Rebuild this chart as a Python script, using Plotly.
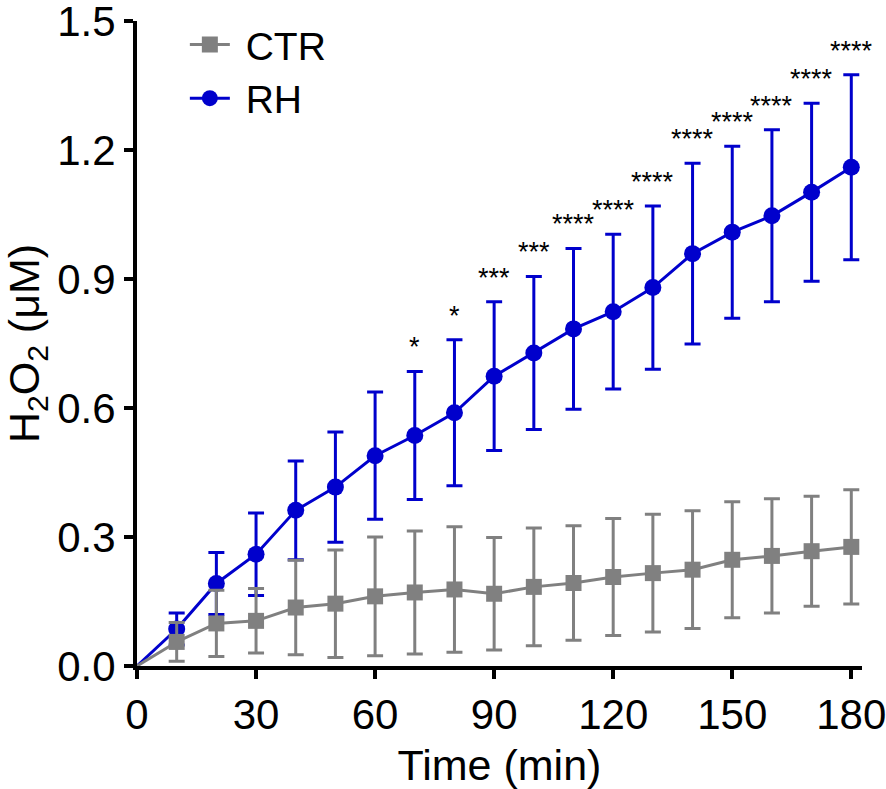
import plotly.graph_objects as go

time = [0, 10, 20, 30, 40, 50, 60, 70, 80, 90, 100, 110, 120, 130, 140, 150, 160, 170, 180]

ctr_mean = [0, 0.056, 0.099, 0.105, 0.136, 0.145, 0.162, 0.171, 0.178, 0.168, 0.184,
            0.193, 0.207, 0.216, 0.224, 0.247, 0.256, 0.267, 0.277]
ctr_sd = [0, 0.045, 0.077, 0.075, 0.110, 0.125, 0.138, 0.143, 0.146, 0.131, 0.137,
          0.133, 0.136, 0.137, 0.137, 0.135, 0.133, 0.128, 0.133]

rh_mean = [0, 0.086, 0.192, 0.260, 0.362, 0.416, 0.489, 0.536, 0.589, 0.674, 0.728,
           0.784, 0.824, 0.880, 0.959, 1.009, 1.047, 1.102, 1.160]
rh_sd = [0, 0.037, 0.072, 0.096, 0.115, 0.128, 0.148, 0.149, 0.170, 0.173, 0.178,
         0.187, 0.180, 0.190, 0.210, 0.200, 0.200, 0.207, 0.215]

# significance marks RH vs CTR
sig_time = [70, 80, 90, 100, 110, 120, 130, 140, 150, 160, 170, 180]
sig_label = ["*", "*", "***", "***", "****", "****", "****", "****", "****", "****", "****", "****"]

BLUE = "#0000CC"
GRAY = "#808080"
FONT = "Liberation Sans, Arial, sans-serif"

fig = go.Figure()


def add_series(mean, sd, name, color, symbol, size):
    # first segment from the origin: line only, no marker at t=0
    fig.add_trace(go.Scatter(
        x=time[:2], y=mean[:2], mode="lines", showlegend=False,
        line=dict(color=color, width=3), hoverinfo="skip", cliponaxis=False,
    ))
    fig.add_trace(go.Scatter(
        x=time[1:], y=mean[1:], name="\u00a0" + name, mode="lines+markers",
        line=dict(color=color, width=3),
        marker=dict(symbol=symbol, size=size, color=color),
        error_y=dict(type="data", array=sd[1:], color=color, thickness=3, width=8),
        cliponaxis=False,
    ))


add_series(rh_mean, rh_sd, "RH", BLUE, "circle", 17)
add_series(ctr_mean, ctr_sd, "CTR", GRAY, "square", 16)

# stars sit just above the upper error cap of RH
for t, lab in zip(sig_time, sig_label):
    i = time.index(t)
    fig.add_annotation(x=t, y=rh_mean[i] + rh_sd[i], text=lab, showarrow=False,
                       yanchor="bottom", yshift=7,
                       font=dict(family=FONT, size=27, color="black"))

fig.update_layout(
    width=886, height=789,
    margin=dict(l=137, r=24, t=21, b=123),
    plot_bgcolor="white", paper_bgcolor="white",
    font=dict(family=FONT, color="black"),
    showlegend=True,
    legend=dict(x=0.066, y=1.013, xanchor="left", yanchor="top",
                traceorder="reversed", font=dict(size=39, family=FONT),
                bgcolor="rgba(0,0,0,0)", itemwidth=40, tracegroupgap=0),
)

fig.update_xaxes(
    range=[0, 182.7], tickvals=[0, 30, 60, 90, 120, 150, 180],
    showline=True, linecolor="black", linewidth=4,
    ticks="outside", ticklen=9, tickwidth=4, tickcolor="black",
    tickfont=dict(size=42, family=FONT), ticklabeloverflow="allow",
    showgrid=False, zeroline=False, automargin=False,
    title=dict(text="Time (min)", font=dict(size=43, family=FONT), standoff=18),
)
fig.update_yaxes(
    range=[0, 1.5], tickvals=[0, 0.3, 0.6, 0.9, 1.2, 1.5], tickformat=".1f",
    showline=True, linecolor="black", linewidth=4,
    ticks="outside", ticklen=9, tickwidth=4, tickcolor="black",
    tickfont=dict(size=42, family=FONT), ticklabeloverflow="allow",
    showgrid=False, zeroline=False, automargin=False,
    title=dict(text="H<sub>2</sub>O<sub>2</sub> (μM)", font=dict(size=43, family=FONT), standoff=14),
)

# drop the default 8px page margin so the figure sits at the window corner
fig.write_html("out.html", config={"displayModeBar": False},
               post_script="document.body.style.margin='0px';")
